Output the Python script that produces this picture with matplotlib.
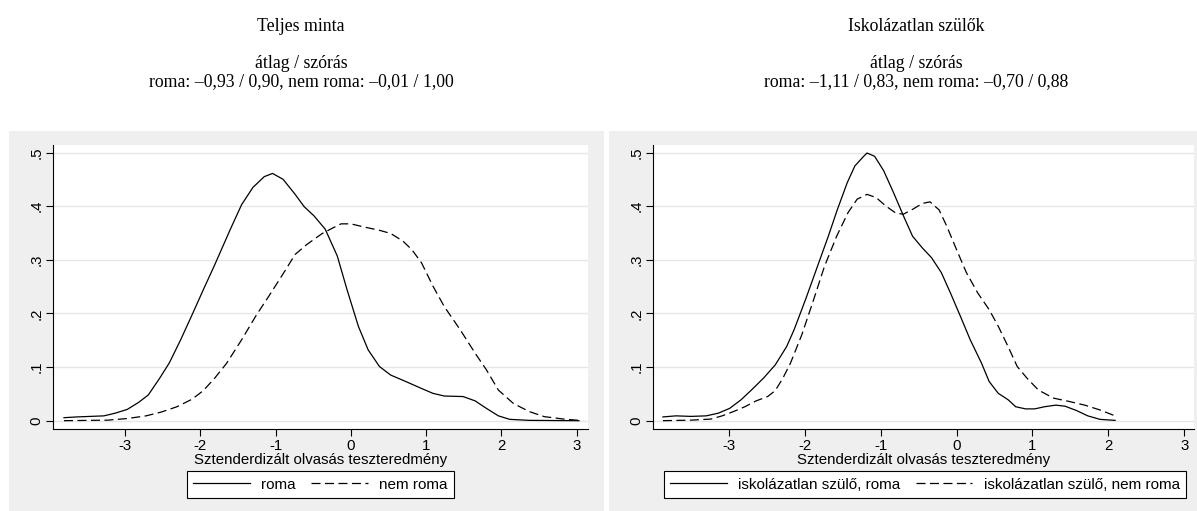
import matplotlib.pyplot as plt
from matplotlib.patches import Rectangle

plt.rcParams['font.family'] = ['Liberation Sans', 'DejaVu Sans']
plt.rcParams['axes.unicode_minus'] = False
plt.rcParams['lines.scale_dashes'] = False

# Teljes minta - roma
x_roma = [-3.81, -3.64, -3.28, -3.13, -2.97, -2.82, -2.69, -2.54, -2.41, -2.26,
          -2.11, -1.96, -1.81, -1.60, -1.45, -1.30, -1.15, -1.04, -0.90, -0.74,
          -0.62, -0.49, -0.34, -0.18, -0.05, 0.10, 0.23, 0.38, 0.53, 0.73,
          0.94, 1.09, 1.24, 1.49, 1.65, 1.80, 1.96, 2.11, 2.37, 3.03]
y_roma = [0.0056, 0.007, 0.009, 0.014, 0.021, 0.034, 0.048, 0.079, 0.108, 0.151,
          0.197, 0.244, 0.290, 0.357, 0.403, 0.435, 0.455, 0.461, 0.450, 0.422,
          0.399, 0.382, 0.357, 0.307, 0.244, 0.176, 0.132, 0.101, 0.085, 0.073,
          0.060, 0.051, 0.046, 0.045, 0.037, 0.023, 0.009, 0.0025, 0.0006, 0.0]

# Teljes minta - nem roma
x_nem = [-3.81, -3.23, -2.97, -2.72, -2.52, -2.31, -2.11, -1.96, -1.81, -1.65,
         -1.45, -1.25, -1.09, -0.89, -0.74, -0.58, -0.38, -0.23, -0.13, 0.0,
         0.18, 0.38, 0.53, 0.69, 0.81, 0.94, 1.09, 1.24, 1.45, 1.65,
         1.80, 1.96, 2.16, 2.37, 2.57, 2.83, 3.03]
y_nem = [0.0, 0.001, 0.004, 0.009, 0.016, 0.026, 0.040, 0.056, 0.079, 0.107,
         0.151, 0.198, 0.232, 0.276, 0.310, 0.329, 0.349, 0.360, 0.367, 0.367,
         0.361, 0.355, 0.349, 0.335, 0.319, 0.294, 0.251, 0.213, 0.170, 0.126,
         0.095, 0.057, 0.032, 0.017, 0.0075, 0.003, 0.0006]

# Iskolázatlan szülők - roma
x_isk_roma = [-3.87, -3.70, -3.50, -3.30, -3.14, -2.99, -2.84, -2.69, -2.54, -2.39,
              -2.24, -2.14, -1.99, -1.84, -1.69, -1.57, -1.44, -1.34, -1.23, -1.18,
              -1.08, -0.96, -0.83, -0.70, -0.58, -0.45, -0.33, -0.20, -0.08, 0.05,
              0.18, 0.33, 0.43, 0.55, 0.68, 0.78, 0.91, 1.03, 1.16, 1.31,
              1.43, 1.58, 1.73, 1.89, 2.09]
y_isk_roma = [0.007, 0.009, 0.008, 0.009, 0.014, 0.023, 0.039, 0.059, 0.080, 0.104,
              0.138, 0.170, 0.226, 0.285, 0.344, 0.394, 0.444, 0.475, 0.492, 0.499,
              0.493, 0.466, 0.425, 0.382, 0.344, 0.322, 0.304, 0.276, 0.238, 0.195,
              0.151, 0.107, 0.073, 0.051, 0.039, 0.026, 0.022, 0.022, 0.026, 0.029,
              0.027, 0.019, 0.009, 0.0025, 0.0006]

# Iskolázatlan szülők - nem roma
x_isk_nem = [-3.87, -3.50, -3.24, -3.09, -2.94, -2.79, -2.64, -2.49, -2.39, -2.29,
             -2.19, -2.04, -1.89, -1.74, -1.58, -1.43, -1.31, -1.18, -1.06, -0.93,
             -0.80, -0.70, -0.58, -0.45, -0.35, -0.23, -0.13, 0.0, 0.13, 0.28,
             0.43, 0.55, 0.68, 0.80, 0.93, 1.08, 1.28, 1.48, 1.69, 1.89, 2.09]
y_isk_nem = [0.0, 0.001, 0.003, 0.009, 0.017, 0.026, 0.037, 0.045, 0.056, 0.079,
             0.107, 0.160, 0.223, 0.288, 0.344, 0.388, 0.413, 0.422, 0.416, 0.400,
             0.387, 0.385, 0.394, 0.405, 0.408, 0.393, 0.363, 0.319, 0.276, 0.238,
             0.207, 0.176, 0.138, 0.101, 0.079, 0.057, 0.042, 0.036, 0.029, 0.020, 0.009]

titles = ['Teljes minta', 'Iskolázatlan szülők']
stats = ['roma: \u20130,93 / 0,90, nem roma: \u20130,01 / 1,00',
         'roma: \u20131,11 / 0,83, nem roma: \u20130,70 / 0,88']
labels = [['roma', 'nem roma'],
          ['iskolázatlan szülő, roma', 'iskolázatlan szülő, nem roma']]

W, H = 1197, 511
fig = plt.figure(figsize=(W / 100, H / 100), dpi=100)


def px_box(x0, y0, x1, y1):
    return [x0 / W, 1 - y1 / H, (x1 - x0) / W, (y1 - y0) / H]


# grey graph regions behind the two plots
for x0, x1 in [(9, 604), (609, 1197)]:
    fig.patches.append(Rectangle((x0 / W, 0), (x1 - x0) / W, (H - 131) / H,
                                 transform=fig.transFigure, facecolor='#efefef',
                                 edgecolor='none', zorder=-10))

ax1 = fig.add_axes(px_box(53.3, 145, 588, 429))
ax2 = fig.add_axes(px_box(653.3, 145, 1194, 429))

panels = [
    (ax1, (-3.952, 3.15), x_roma, y_roma, x_nem, y_nem, 301, 320.5),
    (ax2, (-3.997, 3.13), x_isk_roma, y_isk_roma, x_isk_nem, y_isk_nem, 916, 925),
]

for i, (ax, xlim, xs, ys, xd, yd, tx, lx) in enumerate(panels):
    ax.plot(xs, ys, color='black', lw=0.9, label=labels[i][0])
    ax.plot(xd, yd, color='black', lw=0.9, dashes=(6.5, 3.2), label=labels[i][1])
    ax.set_xlim(xlim)
    ax.set_ylim(-0.0155, 0.514)
    ax.set_yticks([0, .1, .2, .3, .4, .5])
    ax.set_yticklabels(['0', '.1', '.2', '.3', '.4', '.5'], rotation=90, va='center')
    ax.set_xticks(range(-3, 4))
    ax.grid(axis='y', color='#e6e6e6', lw=1)
    ax.set_axisbelow(True)
    for s in ['top', 'right']:
        ax.spines[s].set_visible(False)
    for s in ['left', 'bottom']:
        ax.spines[s].set_linewidth(0.8)
    ax.tick_params(length=5, width=0.8, labelsize=10.8, pad=2)
    ax.set_xlabel('Sztenderdizált olvasás teszteredmény', fontsize=10.8, labelpad=0)

    leg = ax.legend(loc='center', bbox_to_anchor=(lx / W, 1 - 484.8 / H),
                    bbox_transform=fig.transFigure, ncol=2, fancybox=False,
                    edgecolor='black', framealpha=1, handlelength=3.7,
                    handletextpad=0.75, columnspacing=1.0, fontsize=11,
                    borderpad=0.42, borderaxespad=0)
    leg.get_frame().set_linewidth(0.8)

    fig.text(tx / W, 1 - 30.7 / H, titles[i], ha='center', va='baseline',
             family='Liberation Serif', fontsize=12.8)
    fig.text(tx / W, 1 - 67.5 / H, 'átlag / szórás', ha='center', va='baseline',
             family='Liberation Serif', fontsize=12.8)
    fig.text(tx / W, 1 - 86.5 / H, stats[i], ha='center', va='baseline',
             family='Liberation Serif', fontsize=12.8)

plt.savefig('out.png', dpi=100)
